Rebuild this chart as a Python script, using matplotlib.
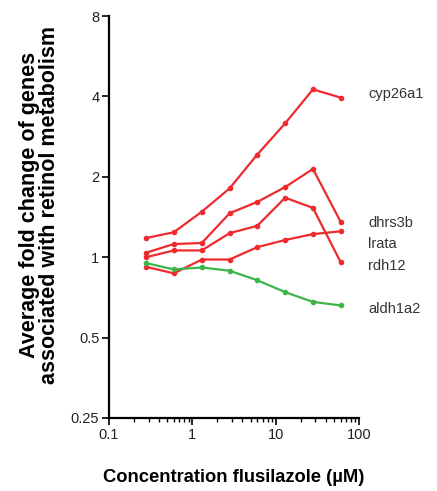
import matplotlib
matplotlib.use("Agg")
import matplotlib.pyplot as plt
import matplotlib.ticker as mticker
import numpy as np

plt.rcParams['font.family'] = ['Liberation Sans', 'DejaVu Sans']

# flusilazole concentrations (uM)
conc = [0.28, 0.6, 1.3, 2.8, 6.0, 13.0, 28.0, 60.0]

# average fold change per gene
cyp26a1 = [1.18, 1.24, 1.48, 1.81, 2.42, 3.17, 4.25, 3.96]
dhrs3b  = [1.04, 1.12, 1.13, 1.46, 1.61, 1.83, 2.14, 1.36]
lrata   = [0.92, 0.87, 0.98, 0.98, 1.09, 1.16, 1.22, 1.25]
rdh12   = [1.00, 1.06, 1.06, 1.23, 1.31, 1.67, 1.53, 0.96]
aldh1a2 = [0.95, 0.90, 0.915, 0.89, 0.82, 0.74, 0.68, 0.66]

genes  = ['cyp26a1', 'dhrs3b', 'lrata', 'rdh12', 'aldh1a2']
series = [cyp26a1, dhrs3b, lrata, rdh12, aldh1a2]
colors = ['#ee2a2f', '#ee2a2f', '#ee2a2f', '#ee2a2f', '#3db54a']
# where the gene names sit on the right (fold change units)
label_y = [4.1, 1.34, 1.12, 0.925, 0.64]

y_ticks = [0.25, 0.5, 1, 2, 4, 8]
y_tick_labels = ['0.25', '0.5', '1', '2', '4', '8']
x_ticks = [0.1, 1, 10, 100]
x_tick_labels = ['0.1', '1', '10', '100']

fig = plt.figure(figsize=(4.37, 4.91), dpi=100)
ax = fig.add_axes([0.2494, 0.1487, 0.5721, 0.8187])

for vals, col in zip(series, colors):
    ax.plot(conc, vals, color=col, lw=1.6, marker='o', ms=3, mec=col, mfc=col)

ax.set_xscale('log')
ax.set_yscale('log', base=2)
ax.set_xlim(0.1, 100)
ax.set_ylim(0.25, 8)

ax.set_yticks(y_ticks)
ax.set_yticklabels(y_tick_labels)
ax.yaxis.set_minor_locator(mticker.NullLocator())
ax.set_xticks(x_ticks)
ax.set_xticklabels(x_tick_labels)
ax.xaxis.set_minor_locator(mticker.LogLocator(base=10, subs=np.arange(2, 10)))
ax.xaxis.set_minor_formatter(mticker.NullFormatter())

for side in ['top', 'right']:
    ax.spines[side].set_visible(False)
for side in ['left', 'bottom']:
    ax.spines[side].set_linewidth(1.6)
    ax.spines[side].set_color('black')

ax.tick_params(axis='both', which='major', direction='out', length=5, width=1.2,
               labelsize=10.5, colors='black', pad=2)
ax.tick_params(axis='x', which='minor', direction='out', length=3, width=1.0)
for lab in ax.get_xticklabels() + ax.get_yticklabels():
    lab.set_color('#222222')

for name, yy in zip(genes, label_y):
    ax.text(1.036, yy, name, transform=ax.get_yaxis_transform(), fontsize=10.5,
            color='#333333', va='center', ha='left', clip_on=False)

ax.set_xlabel('Concentration flusilazole (\u00b5M)', fontsize=13.2, fontweight='bold',
              labelpad=20)
ax.set_ylabel('Average fold change of genes\nassociated with retinol metabolism',
              fontsize=15.5, fontweight='bold', linespacing=0.95)
ax.yaxis.set_label_coords(-0.196, 0.53)

fig.savefig('out.png', dpi=100)
